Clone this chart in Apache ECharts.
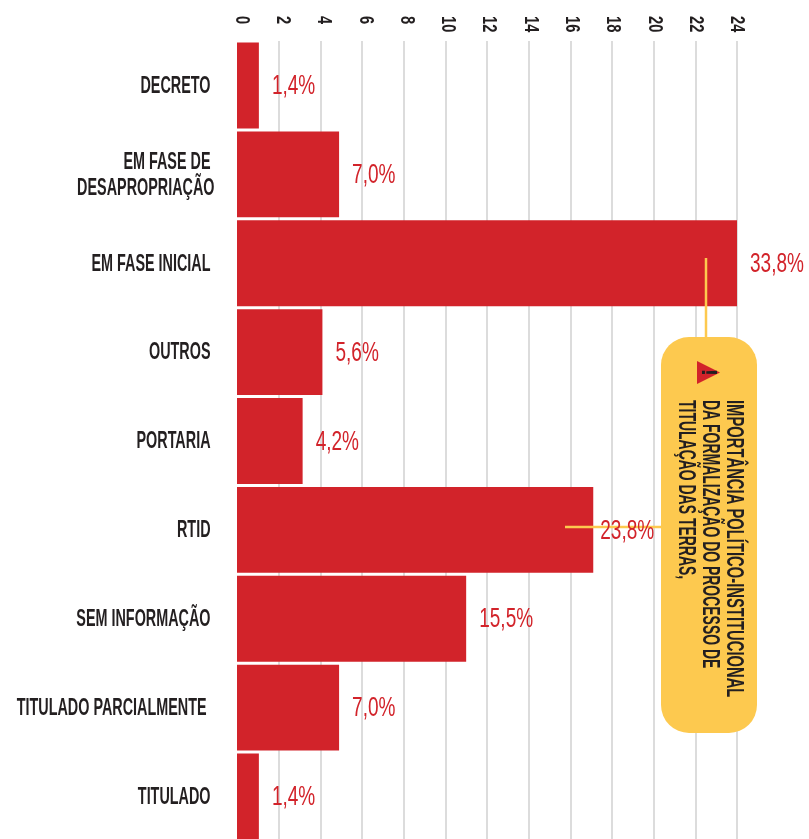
<!DOCTYPE html>
<html><head><meta charset="utf-8">
<style>html,body{margin:0;padding:0;background:#fff}#c{width:809px;height:839px}</style>
<script src="https://cdn.jsdelivr.net/npm/echarts@6/dist/echarts.min.js"></script>
</head><body><div id="c"></div>
<script>
const categories = ['DECRETO ','EM FASE DE \nDESAPROPRIAÇÃO','EM FASE INICIAL ','OUTROS ','PORTARIA ','RTID ','SEM INFORMAÇÃO ','TITULADO PARCIALMENTE  ','TITULADO '];
const values = [1.05,4.9,24,4.1,3.15,17.1,11,4.9,1.05];
const percentLabels = ['1,4%','7,0%','33,8%','5,6%','4,2%','23,8%','15,5%','7,0%','1,4%'];
const xTicks = [0,2,4,6,8,10,12,14,16,18,20,22,24];
const noteLines = ['IMPORTÂNCIA POLÍTICO-INSTITUCIONAL','DA FORMALIZAÇÃO DO PROCESSO DE','TITULAÇÃO DAS TERRAS,'];

const RED='#d2232a', YEL='#fdc94f', INK='#231f20';
const FONT='"Liberation Sans"';
const chart = echarts.init(document.getElementById('c'),null,{renderer:'canvas'});
const vert = -Math.PI/2;
chart.setOption({
  animation:false,
  backgroundColor:'#fff',
  grid:{left:237,top:41,width:500,height:800,outerBoundsMode:'none'},
  xAxis:{type:'value',position:'top',min:xTicks[0],max:xTicks[xTicks.length-1],interval:2,
    axisLine:{show:false},axisTick:{show:false},
    splitLine:{show:true,showMinLine:false,lineStyle:{color:'#dcdcdc',width:2}},
    axisLabel:{show:false}},
  yAxis:{type:'category',inverse:true,data:categories,axisLine:{show:false},axisTick:{show:false},axisLabel:{show:false},splitLine:{show:false}},
  series:[
    {type:'bar',data:values,barCategoryGap:'3.4%',itemStyle:{color:RED},silent:true,z:2},
    {type:'custom',silent:true,z:10,clip:false,data:values.map((v,i)=>[v,i]),encode:{x:0,y:1},
      renderItem:(p,api)=>{
        const i=api.value(1);
        const pt=api.coord([api.value(0),i]);
        const zero=api.coord([0,i]);
        const gap = percentLabels[i]==='23,8%' ? 8 : 14;
        return {type:'group',children:[
          {type:'text',x:pt[0]+gap-1,y:pt[1]+1,scaleX:.68,style:{text:percentLabels[i],fontFamily:FONT,fontSize:28,fill:RED,align:'left',verticalAlign:'middle'}},
          {type:'text',x:zero[0]-22.5,y:zero[1]+1,scaleX:.625,style:{text:categories[i],fontFamily:FONT,fontWeight:'bold',fontSize:23,lineHeight:26,fill:INK,align:'right',verticalAlign:'middle'}}
        ]};
      }},
    {type:'custom',silent:true,z:10,clip:false,data:xTicks.map(t=>[t,0]),encode:{x:0,y:1},
      renderItem:(p,api)=>{
        const t=api.value(0);
        const pt=api.coord([t,0]);
        return {type:'text',x:pt[0]+4.5*(1-t/24),y:p.coordSys.y-25,rotation:vert,scaleX:.7,style:{text:String(t),fontFamily:FONT,fontWeight:'bold',fontSize:21,fill:INK,align:'left',verticalAlign:'middle'}};
      }}
  ],
  graphic:[
    {type:'line',z:5,shape:{x1:706,y1:258,x2:706,y2:340},style:{stroke:YEL,lineWidth:2.5}},
    {type:'line',z:5,shape:{x1:565,y1:527,x2:665,y2:527},style:{stroke:YEL,lineWidth:2.5}},
    {type:'rect',z:6,shape:{x:661,y:337,width:96,height:396,r:28},style:{fill:YEL}},
    {type:'polygon',z:7,shape:{points:[[697,361],[697,384],[720,372.5]]},style:{fill:RED}},
    {type:'text',z:8,x:708,y:372.5,rotation:vert,style:{text:'!',fontFamily:FONT,fontWeight:'bold',fontSize:22,fill:INK,align:'center',verticalAlign:'middle'}},
    ...noteLines.map((t,i)=>({type:'text',z:8,x:733-24*i,y:400,rotation:vert,scaleX:i===0?.643:.607,style:{text:t,fontFamily:FONT,fontWeight:'bold',fontSize:23,fill:INK,align:'left',verticalAlign:'middle'}}))
  ]
});
</script></body></html>
